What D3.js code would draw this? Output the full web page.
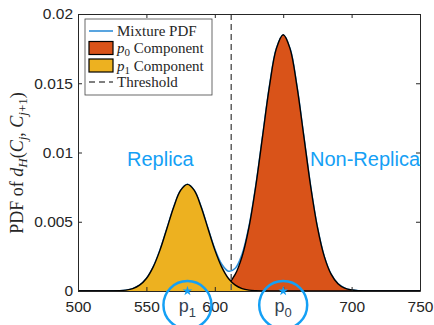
<!DOCTYPE html>
<html>
<head>
<meta charset="utf-8">
<script src="https://cdn.jsdelivr.net/npm/d3@7"></script>
<style>
  html, body { margin: 0; padding: 0; background: #fff; }
  svg { display: block; }
</style>
</head>
<body>
<svg id="chart" width="434" height="325"></svg>
<script>
// ---------- data ----------
const xGrid = [500,505,510,515,520,525,530,535,540,545,550,555,560,565,570,575,580,585,590,595,600,605,610,615,620,625,630,635,640,645,650,655,660,665,670,675,680,685,690,695,700,705,710,715,720,725,730,735,740,745,750];
// p1 component (yellow, "Replica")
const p1Values = [0,0,0,0,0.0000015,0.000006,0.00002,0.00006,0.00017,0.00042,0.0009,0.00174,0.00297,0.00451,0.00607,0.00726,0.0077,0.00726,0.00607,0.00451,0.00297,0.00174,0.0009,0.00042,0.00017,0.00006,0.00002,0.000006,0.0000015,0,0,0,0,0,0,0,0,0,0,0,0,0,0,0,0,0,0,0,0,0,0];
// p0 component (orange, "Non-Replica")
const p0Values = [0,0,0,0,0,0,0,0,0,0,0,0,0,0,0,0,0,0,0.0000062,0.0000223,0.0000715,0.000206,0.000529,0.00122,0.0025,0.00461,0.0076,0.01122,0.01481,0.0175,0.0185,0.0175,0.01481,0.01122,0.0076,0.00461,0.0025,0.00122,0.000529,0.000206,0.0000715,0.0000223,0.0000062,0,0,0,0,0,0,0,0];
const threshold = 612;
const centers = [{name: "1", x: 580}, {name: "0", x: 650}];
const xTicks = [500, 550, 600, 650, 700, 750];
const xTickLabels = ["500", "550", "600", "", "700", "750"]; // 650 is hidden behind the p0 label
const yTicks = [0, 0.005, 0.01, 0.015, 0.02];
const yTickLabels = ["0", "0.005", "0.01", "0.015", "0.02"];

// ---------- layout ----------
const svg = d3.select("#chart");
const L = 78, R = 420, T = 14, B = 291;
const x = d3.scaleLinear().domain([500, 750]).range([L, R]);
const y = d3.scaleLinear().domain([0, 0.02]).range([B, T]);

const C_ORANGE = "#D95319", C_YELLOW = "#EDB120", C_MIX = "#2F8FD8", C_ANN = "#14A0F5", C_AX = "#262626";

const mixture = xGrid.map((v, i) => ({x: v, y: p0Values[i] + p1Values[i]}));
const comp0 = xGrid.map((v, i) => ({x: v, y: p0Values[i]}));
const comp1 = xGrid.map((v, i) => ({x: v, y: p1Values[i]}));

const line = d3.line().x(d => x(d.x)).y(d => y(d.y)).curve(d3.curveCatmullRom.alpha(0.5));
const area = d3.area().x(d => x(d.x)).y0(y(0)).y1(d => y(d.y)).curve(d3.curveCatmullRom.alpha(0.5));

const plot = svg.append("g");
plot.append("path").attr("d", line(mixture)).attr("fill", "none").attr("stroke", C_MIX).attr("stroke-width", 1.6);
plot.append("path").attr("d", area(comp0)).attr("fill", C_ORANGE);
plot.append("path").attr("d", line(comp0)).attr("fill", "none").attr("stroke", "#000").attr("stroke-width", 1.4);
plot.append("path").attr("d", area(comp1)).attr("fill", C_YELLOW);
plot.append("path").attr("d", line(comp1)).attr("fill", "none").attr("stroke", "#000").attr("stroke-width", 1.4);
plot.append("line").attr("x1", x(threshold)).attr("x2", x(threshold)).attr("y1", y(0.02)).attr("y2", y(0))
  .attr("stroke", "#555").attr("stroke-width", 1.4).attr("stroke-dasharray", "6,4");

// ---------- axes ----------
const tickFont = "'Liberation Sans', Arial, Helvetica, sans-serif";
const gx = svg.append("g").attr("transform", `translate(0,${B})`)
  .call(d3.axisBottom(x).tickValues(xTicks).tickFormat((d, i) => xTickLabels[i]).tickSizeInner(-4).tickSizeOuter(0).tickPadding(10));
const gy = svg.append("g").attr("transform", `translate(${L},0)`)
  .call(d3.axisLeft(y).tickValues(yTicks).tickFormat((d, i) => yTickLabels[i]).tickSizeInner(-4).tickSizeOuter(0).tickPadding(5));
const gxt = svg.append("g").attr("transform", `translate(0,${T})`)
  .call(d3.axisTop(x).tickValues(xTicks).tickFormat("").tickSizeInner(-4).tickSizeOuter(0));
const gyr = svg.append("g").attr("transform", `translate(${R},0)`)
  .call(d3.axisRight(y).tickValues(yTicks).tickFormat("").tickSizeInner(-4).tickSizeOuter(0));
[gx, gy, gxt, gyr].forEach(g => {
  g.selectAll("path").attr("stroke", C_AX).attr("stroke-width", 1);
  g.selectAll("line").attr("stroke", C_AX).attr("stroke-width", 1);
  g.selectAll("text").attr("fill", C_AX).style("font-family", tickFont).style("font-size", "15.5px");
});

// y label
const serif = "'Liberation Serif', 'Times New Roman', 'DejaVu Serif', serif";
const ylab = svg.append("text").attr("transform", `translate(23,${163}) rotate(-90)`)
  .attr("text-anchor", "middle").style("font-family", serif).style("font-size", "18px").attr("fill", C_AX);
ylab.append("tspan").text("PDF of ");
ylab.append("tspan").attr("font-style", "italic").text("d");
ylab.append("tspan").attr("font-style", "italic").attr("font-size", "13px").attr("dy", 4).text("H");
ylab.append("tspan").attr("dy", -4).text("(");
ylab.append("tspan").attr("font-style", "italic").text("C");
ylab.append("tspan").attr("font-style", "italic").attr("font-size", "13px").attr("dy", 4).text("j");
ylab.append("tspan").attr("dy", -4).text(", ");
ylab.append("tspan").attr("font-style", "italic").text("C");
ylab.append("tspan").attr("font-size", "13px").attr("dy", 4).html("<tspan font-style='italic'>j</tspan>+1");
ylab.append("tspan").attr("dy", -4).text(")");

// ---------- annotations ----------
const sans = "'Liberation Sans', Arial, Helvetica, sans-serif";
svg.append("text").attr("x", 127).attr("y", 166).text("Replica")
  .style("font-family", sans).style("font-size", "20px").attr("fill", C_ANN);
svg.append("text").attr("x", 310).attr("y", 166).text("Non-Replica")
  .style("font-family", sans).style("font-size", "20px").attr("fill", C_ANN);

const star = d3.symbol().type(d3.symbolStar).size(30);
centers.forEach(c => {
  svg.append("path").attr("d", star()).attr("transform", `translate(${x(c.x)},${y(0)})`).attr("fill", C_ANN);
  svg.append("circle").attr("cx", x(c.x)).attr("cy", 305).attr("r", 24)
    .attr("fill", "none").attr("stroke", C_ANN).attr("stroke-width", 2.5);
  const t = svg.append("text").attr("x", x(c.x)).attr("y", 312).attr("text-anchor", "middle")
    .style("font-family", sans).style("font-size", "18px").attr("fill", "#34414f");
  t.append("tspan").text("p");
  t.append("tspan").attr("dy", 5).style("font-size", "13px").text(c.name);
});

// ---------- legend ----------
const lg = svg.append("g");
lg.append("rect").attr("x", 85).attr("y", 19).attr("width", 127).attr("height", 76)
  .attr("fill", "#fff").attr("stroke", "#444").attr("stroke-width", 0.8);
const rows = [
  {type: "line", color: C_MIX, label: ["Mixture PDF"]},
  {type: "patch", color: C_ORANGE, label: ["p", "0", " Component"]},
  {type: "patch", color: C_YELLOW, label: ["p", "1", " Component"]},
  {type: "dash", color: "#555", label: ["Threshold"]}
];
const rowY = [31, 48, 65.5, 82];
rows.forEach((r, i) => {
  const yy = rowY[i];
  if (r.type === "line") {
    lg.append("line").attr("x1", 89).attr("x2", 113).attr("y1", yy).attr("y2", yy).attr("stroke", r.color).attr("stroke-width", 1.6);
  } else if (r.type === "dash") {
    lg.append("line").attr("x1", 89).attr("x2", 113).attr("y1", yy).attr("y2", yy).attr("stroke", r.color).attr("stroke-width", 1.4).attr("stroke-dasharray", "6,4");
  } else {
    lg.append("rect").attr("x", 89).attr("y", yy - 6.5).attr("width", 24).attr("height", 13)
      .attr("fill", r.color).attr("stroke", "#000").attr("stroke-width", 1.2);
  }
  const t = lg.append("text").attr("x", 117).attr("y", yy + 5).style("font-family", serif).style("font-size", "15px").attr("fill", C_AX);
  if (r.label.length === 1) {
    t.text(r.label[0]);
  } else {
    t.append("tspan").attr("font-style", "italic").text(r.label[0]);
    t.append("tspan").attr("font-size", "11px").attr("dy", 3).text(r.label[1]);
    t.append("tspan").attr("dy", -3).text(r.label[2]);
  }
});
</script>
</body>
</html>
